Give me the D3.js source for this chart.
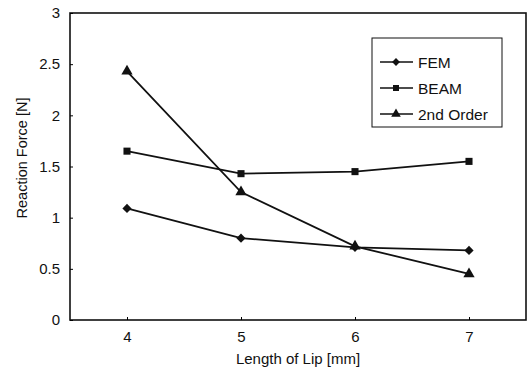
<!DOCTYPE html>
<html><head><meta charset="utf-8">
<script src="https://cdn.jsdelivr.net/npm/d3@7"></script>
<style>
body{margin:0;background:#fff;}
text{font-family:"Liberation Sans",Arial,sans-serif;fill:#111;}
</style></head>
<body>
<script>
const categories = [4, 5, 6, 7];
const femValues = [1.09, 0.80, 0.71, 0.68];
const beamValues = [1.65, 1.43, 1.45, 1.55];
const secondOrderValues = [2.43, 1.25, 0.72, 0.45];
const seriesNames = ["FEM", "BEAM", "2nd Order"];
const yTicks = [0, 0.5, 1, 1.5, 2, 2.5, 3];
const xTicks = [4, 5, 6, 7];

const W = 527, H = 371;
const L = 70, R = 526, T = 13, B = 320;
const FONT = '"Liberation Sans",Arial,sans-serif';
const svg = d3.select("body").append("svg").attr("width", W).attr("height", H);

const x = d3.scaleLinear().domain([3.5, 7.5]).range([L, R]);
const y = d3.scaleLinear().domain([0, 3]).range([B, T]);

svg.append("rect").attr("x", L).attr("y", T).attr("width", R - L).attr("height", B - T)
  .attr("fill", "none").attr("stroke", "#111").attr("stroke-width", 1.6);

const yAxis = d3.axisLeft(y).tickValues(yTicks).tickSize(-3).tickPadding(10)
  .tickFormat(d3.format(""));
const gy = svg.append("g").attr("transform", `translate(${L},0)`).call(yAxis);
gy.select(".domain").remove();
gy.selectAll("text").style("font-size", "15px").style("font-family", FONT);

const xAxis = d3.axisBottom(x).tickValues(xTicks).tickSize(-3).tickPadding(11)
  .tickFormat(d3.format("d"));
const gx = svg.append("g").attr("transform", `translate(0,${B})`).call(xAxis);
gx.select(".domain").remove();
gx.selectAll("text").style("font-size", "15px").style("font-family", FONT);

svg.append("text").attr("x", 298).attr("y", 364).attr("text-anchor", "middle")
  .style("font-size", "15px").text("Length of Lip [mm]");
svg.append("text").attr("transform", "translate(27,158) rotate(-90)").attr("text-anchor", "middle")
  .style("font-size", "14.5px").text("Reaction Force [N]");

const diamond = (r) => `M0,${-r}L${r},0L0,${r}L${-r},0Z`;
const markerPath = [
  s => diamond(4.6 * s),
  s => d3.symbol().type(d3.symbolSquare).size(50 * s * s)(),
  s => d3.symbol().type(d3.symbolTriangle).size(55 * s * s)()
];
const allSeries = [femValues, beamValues, secondOrderValues];
const line = d3.line().x((d, i) => x(categories[i])).y(d => y(d));

allSeries.forEach((vals, si) => {
  svg.append("path").datum(vals).attr("d", line).attr("fill", "none")
    .attr("stroke", "#111").attr("stroke-width", 1.8);
  svg.selectAll(null).data(vals).enter().append("path")
    .attr("transform", (d, i) => `translate(${x(categories[i])},${y(d)})`)
    .attr("d", markerPath[si](1)).attr("fill", "#111");
});

const lg = svg.append("g");
lg.append("rect").attr("x", 372).attr("y", 38).attr("width", 130).attr("height", 89)
  .attr("fill", "#fff").attr("stroke", "#111").attr("stroke-width", 1);
seriesNames.forEach((n, i) => {
  const yy = 62 + i * 26;
  lg.append("line").attr("x1", 380).attr("x2", 413).attr("y1", yy).attr("y2", yy)
    .attr("stroke", "#111").attr("stroke-width", 1.3);
  lg.append("path").attr("transform", `translate(396,${yy})`)
    .attr("d", markerPath[i](0.85)).attr("fill", "#111");
  lg.append("text").attr("x", 418).attr("y", yy + 5.5).style("font-size", "15.5px").text(n);
});
</script>
</body></html>
